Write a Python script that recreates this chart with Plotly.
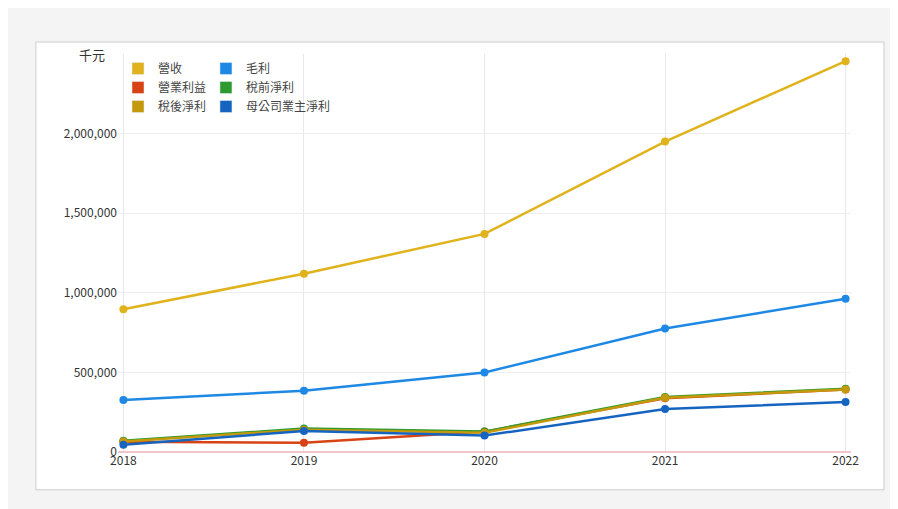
import plotly.graph_objects as go

years = ["2018", "2019", "2020", "2021", "2022"]
revenue = [897000, 1120000, 1370000, 1950000, 2455000]
gross = [327000, 385000, 500000, 776000, 962000]
operating = [64000, 58000, 128000, 338000, 393000]
pretax = [70000, 147000, 128000, 346000, 397000]
aftertax = [66000, 140000, 121000, 341000, 393000]
parent = [45000, 132000, 103000, 270000, 314000]

series = [
    ("營收", revenue, "#e0b21c", "legend"),
    ("毛利", gross, "#1e88e5", "legend2"),
    ("營業利益", operating, "#d84315", "legend"),
    ("稅前淨利", pretax, "#2e9a2e", "legend2"),
    ("稅後淨利", aftertax, "#c49a0c", "legend"),
    ("母公司業主淨利", parent, "#1565c0", "legend2"),
]

fig = go.Figure()
for name, vals, color, lg in series:
    fig.add_trace(go.Scatter(x=years, y=vals, name=name, mode="lines+markers", showlegend=False,
                             line=dict(color=color, width=2.5), marker=dict(size=8)))
    # square legend swatch
    fig.add_trace(go.Bar(x=[None], y=[None], name=name, marker_color=color, legend=lg))

leg = dict(bgcolor="rgba(255,255,255,0)", font=dict(size=12, color="#444"),
           tracegroupgap=0, itemwidth=30, yanchor="top", traceorder="normal")
fig.update_layout(
    width=898, height=509,
    paper_bgcolor="#f4f4f4", plot_bgcolor="white",
    margin=dict(l=110, r=55, t=46, b=65),
    font=dict(family="Noto Sans CJK TC", size=12, color="#333"),
    legend=dict(x=0.0, y=1.0, **leg),
    legend2=dict(x=0.12, y=1.0, **leg),
    shapes=[dict(type="rect", xref="paper", yref="paper", x0=-0.112, x1=1.045, y0=-0.095, y1=1.03,
                 line=dict(color="#ccc", width=1), fillcolor="white", layer="below")],
    annotations=[dict(text="千元", xref="paper", yref="y", x=-0.015, y=2500000, xanchor="right",
                      showarrow=False, font=dict(size=13))],
)
fig.update_xaxes(range=[-0.03, 4.03], showgrid=True, gridcolor="#e8e8e8", ticks="",
                 showline=False, zeroline=False)
fig.update_yaxes(range=[0, 2500000], tickvals=[0, 500000, 1000000, 1500000, 2000000],
                 tickformat=",", gridcolor="#eeeeee", zeroline=True, zerolinecolor="#f2c4cc",
                 zerolinewidth=2)
fig.write_html("out.html")
